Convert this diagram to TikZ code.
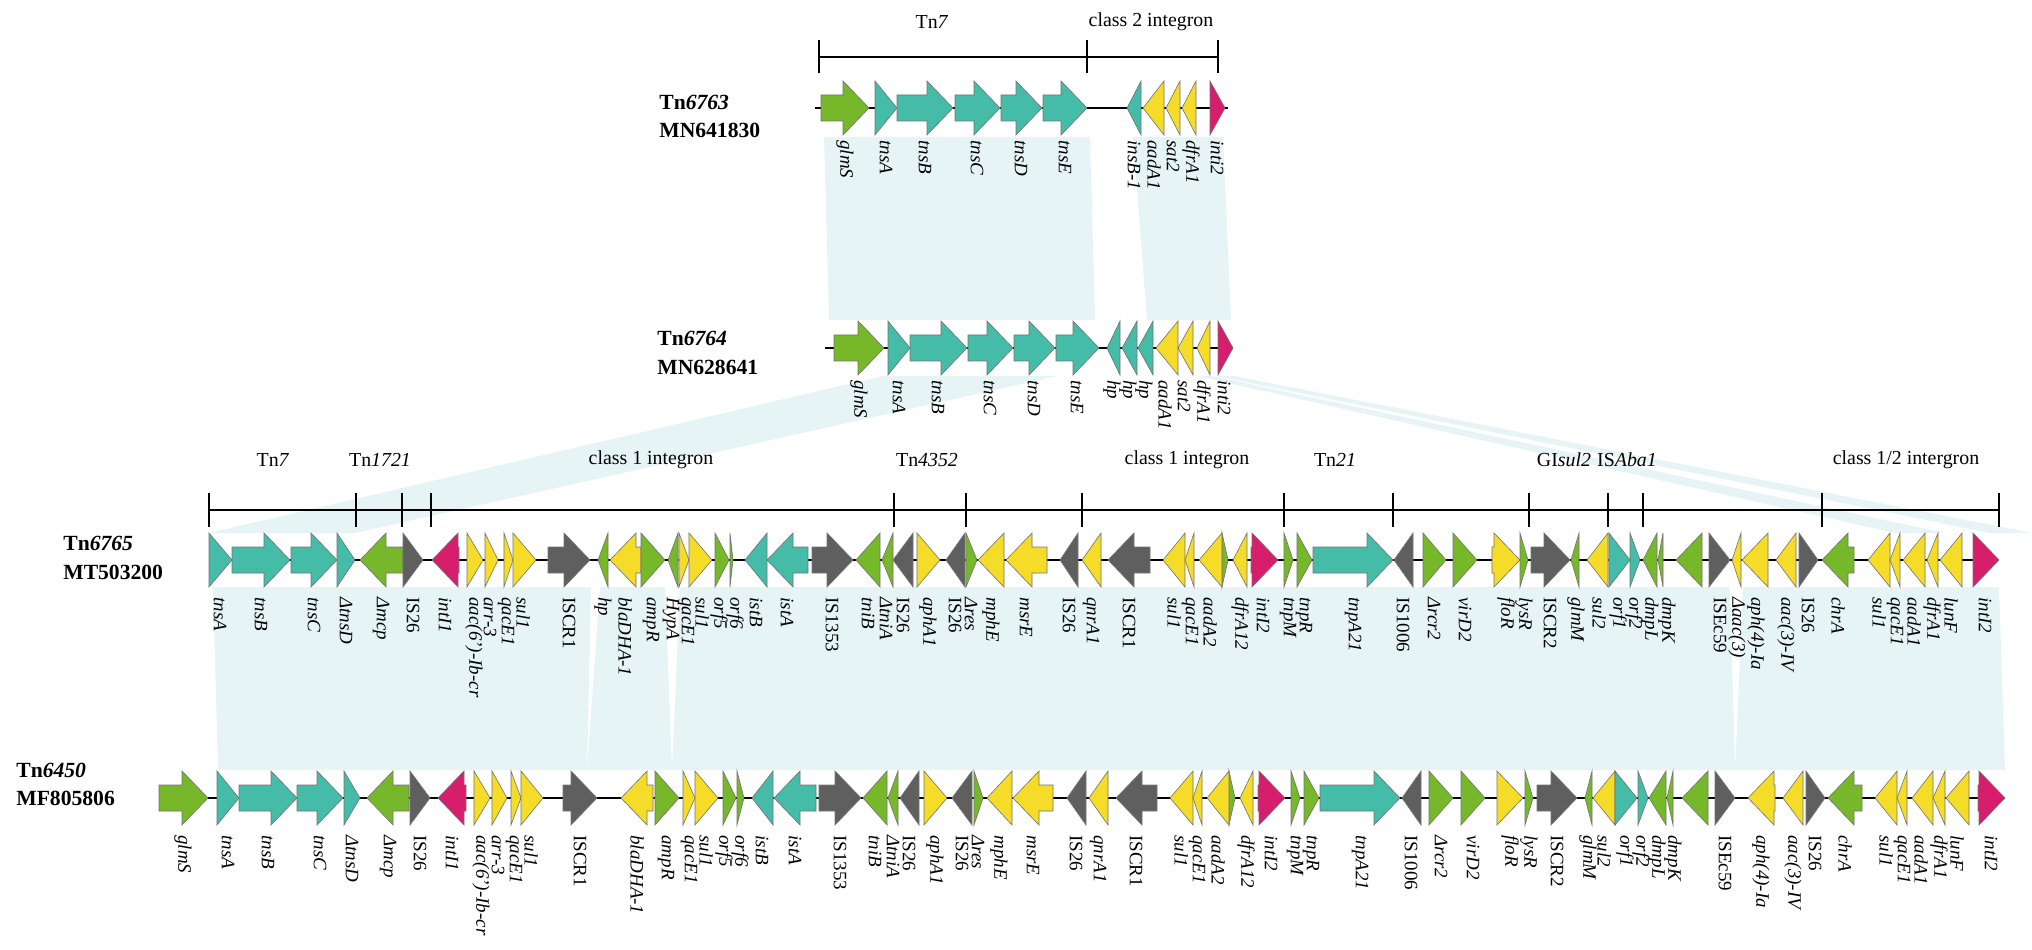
\documentclass[tikz,border=0pt]{standalone}
\usepackage{fontspec}
\setmainfont{Liberation Serif}
\usepackage{tikz}
\usetikzlibrary{calc}
\definecolor{genegreen}{HTML}{76B82A}
\definecolor{geneteal}{HTML}{45BCA8}
\definecolor{geneyellow}{HTML}{F5DC28}
\definecolor{genepink}{HTML}{D61E6C}
\definecolor{genegray}{HTML}{5F5F5F}
\definecolor{bandblue}{HTML}{E6F4F6}
% gene arrow: x1, x2, y, direction (R/L), colour
\newcommand{\gene}[5]{%
  \pgfmathsetmacro{\ghead}{min(#2-#1,26)}%
  \if#4R%
    \filldraw[genebody,fill=#5] (#1,#3-13) -- ({#2-\ghead},#3-13) -- ({#2-\ghead},#3-27) -- (#2,#3) -- ({#2-\ghead},#3+27) -- ({#2-\ghead},#3+13) -- (#1,#3+13) -- cycle;%
  \else%
    \filldraw[genebody,fill=#5] (#2,#3-13) -- ({#1+\ghead},#3-13) -- ({#1+\ghead},#3-27) -- (#1,#3) -- ({#1+\ghead},#3+27) -- ({#1+\ghead},#3+13) -- (#2,#3+13) -- cycle;%
  \fi}

\begin{document}
\begin{tikzpicture}[x=0.2mm, y=-0.2mm]

    % TikZ styles for drawing %%%%%%%%%%%%%%%%%%%%%%%%%%%%%%%%%%%%%%%%%%%%%%%%%%%%%%
    \tikzstyle{genebody} = [draw=black!55, line width=0.35pt]
    \tikzstyle{backbone} = [line width=1.7pt]
    \tikzstyle{bracket} = [line width=1.5pt]
    \tikzstyle{band} = [fill=bandblue]
    \tikzstyle{glabel} = [rotate=-90, anchor=west, inner sep=0pt, font=\itshape\fontsize{10.8}{12}\selectfont]
    \tikzstyle{title} = [anchor=west, inner sep=0pt, font=\bfseries\fontsize{12.3}{14}\selectfont]
    \tikzstyle{region} = [inner sep=0pt, font=\fontsize{11.3}{13}\selectfont]

    \useasboundingbox (0,0) rectangle (2032,950);

    % Homology bands %%%%%%%%%%%%%%%%%%%%%%%%%%%%%%%%%%%%%%%%%%%%%%%%%%%%%%%%%%%%%%%%%%%
    \fill[band] (824,137) -- (1090,137) -- (1095,320) -- (829,320) -- cycle;
    \fill[band] (1133,137) -- (1223,137) -- (1231,320) -- (1147,320) -- cycle;
    \fill[band] (883,376) -- (1057,376) -- (355,533) -- (209,533) -- cycle;
    \fill[band] (1216,376) -- (1234,376) -- (2032,533) -- (1990,533) -- cycle;
    \fill[band] (1197,376) -- (1212,376) -- (1945,533) -- (1895,533) -- cycle;
    \fill[band] (213,587) -- (591,587) -- (587,770) -- (218,770) -- cycle;
    \fill[band] (600,587) -- (665,587) -- (672,770) -- (587,770) -- cycle;
    \fill[band] (680,587) -- (1730,587) -- (1735,770) -- (672,770) -- cycle;
    \fill[band] (1743,587) -- (1999,587) -- (2005,770) -- (1735,770) -- cycle;

    % Region brackets %%%%%%%%%%%%%%%%%%%%%%%%%%%%%%%%%%%%%%%%%%%%%%%%%%%%%%%%%%%%%%%%%%
    \draw[bracket] (819,57) -- (1218,57);
    \foreach \t in {819,1087,1218}
      \draw[bracket] (\t,40) -- (\t,73);
    \node[region] (tnseven) at (932,22) {Tn\textit{7}};
    \node[region] (classtwo) at (1151,22) {class 2 integron};

    \draw[bracket] (209,510) -- (1999,510);
    \foreach \t in {209,356,402,431,894,966,1082,1284,1393,1529,1608,1643,1822,1999}
      \draw[bracket] (\t,493) -- (\t,527);
    \node[region] (rtnseven) at (273,460) {Tn\textit{7}};
    \node[region] (rtnone) at (380,460) {Tn\textit{1721}};
    \node[region] (rclassone) at (651,460) {class 1 integron};
    \node[region] (rtnfour) at (927,460) {Tn\textit{4352}};
    \node[region] (rclassonb) at (1187,460) {class 1 integron};
    \node[region] (rtntwo) at (1335,460) {Tn\textit{21}};
    \node[region] (rgisul) at (1564,460) {GI\textit{sul2}};
    \node[region] (risaba) at (1627,460) {IS\textit{Aba1}};
    \node[region] (rclassmix) at (1906,460) {class 1/2 intergron};

    % Titles %%%%%%%%%%%%%%%%%%%%%%%%%%%%%%%%%%%%%%%%%%%%%%%%%%%%%%%%%%%%%%%%%%%%%%%%%%%
    \node[title] (tna) at (659,102) {Tn\textit{6763}};
    \node[title] (acca) at (659,130) {MN641830};
    \node[title] (tnb) at (657,338) {Tn\textit{6764}};
    \node[title] (accb) at (657,367) {MN628641};
    \node[title] (tnc) at (63,543) {Tn\textit{6765}};
    \node[title] (accc) at (63,572) {MT503200};
    \node[title] (tnd) at (16,770) {Tn\textit{6450}};
    \node[title] (accd) at (16,798) {MF805806};

    % Backbones %%%%%%%%%%%%%%%%%%%%%%%%%%%%%%%%%%%%%%%%%%%%%%%%%%%%%%%%%%%%%%%%%%%%%%%%
    \draw[backbone] (815,108) -- (1228,108);
    \draw[backbone] (825,348) -- (1233,348);
    \draw[backbone] (209,560) -- (1999,560);
    \draw[backbone] (159,798) -- (2005,798);

    % Tn6763 %%%%%%%%%%%%%%%%%%%%%%%%%%%%%%%%%%%%%%%%%%%%%%%%%%%%%%%%%%%%%%%%%%%%%%%%%%%
    \foreach \xa/\xb/\col/\dir/\lx/\lab [count=\i] in {
      821/869/genegreen/R/845/glmS, 875/897/geneteal/R/886/tnsA,
      897/953/geneteal/R/925/tnsB, 955/1000/geneteal/R/977/tnsC,
      1001/1042/geneteal/R/1021/tnsD, 1043/1087/geneteal/R/1065/tnsE,
      1127/1141/geneteal/L/1134/insB-1, 1143/1164/geneyellow/L/1154/aadA1,
      1166/1180/geneyellow/L/1173/sat2, 1182/1196/geneyellow/L/1191/dfrA1,
      1210/1225/genepink/R/1217/inti2} {
      \gene{\xa}{\xb}{108}{\dir}{\col}
      \node[glabel] (al\i) at (\lx,140) {\lab};
    }

    % Tn6764 %%%%%%%%%%%%%%%%%%%%%%%%%%%%%%%%%%%%%%%%%%%%%%%%%%%%%%%%%%%%%%%%%%%%%%%%%%%
    \foreach \xa/\xb/\col/\dir/\lx/\lab [count=\i] in {
      834/884/genegreen/R/859/glmS, 888/910/geneteal/R/899/tnsA,
      910/967/geneteal/R/938/tnsB, 968/1013/geneteal/R/990/tnsC,
      1014/1055/geneteal/R/1034/tnsD, 1056/1099/geneteal/R/1077/tnsE,
      1107/1120/geneteal/L/1112/hp, 1122/1137/geneteal/L/1128/hp,
      1138/1153/geneteal/L/1144/hp, 1156/1178/geneyellow/L/1165/aadA1,
      1178/1193/geneyellow/L/1184/sat2, 1197/1210/geneyellow/L/1202/dfrA1,
      1218/1233/genepink/R/1224/inti2} {
      \gene{\xa}{\xb}{348}{\dir}{\col}
      \node[glabel] (bl\i) at (\lx,380) {\lab};
    }

    % Tn6765 %%%%%%%%%%%%%%%%%%%%%%%%%%%%%%%%%%%%%%%%%%%%%%%%%%%%%%%%%%%%%%%%%%%%%%%%%%%
    \gene{1222}{1228}{560}{R}{genegreen}
    \foreach \xa/\xb/\col/\dir/\lx/\lab [count=\i] in {
      209/232/geneteal/R/220/tnsA, 232/290/geneteal/R/261/tnsB,
      291/337/geneteal/R/314/tnsC, 337/355/geneteal/R/346/ΔtnsD,
      360/403/genegreen/L/381/Δmcp, 403/423/genegray/R/413/{\upshape IS26},
      432/459/genepink/L/445/intI1, 467/483/geneyellow/R/474/aac(6’)-Ib-cr,
      485/498/geneyellow/R/490/arr-3, 504/513/geneyellow/R/506/qacE1,
      513/536/geneyellow/R/523/sul1, 548/590/genegray/R/569/{\upshape ISCR1},
      598/608/genegreen/L/603/hp, 610/641/geneyellow/L/625/blaDHA-1,
      641/665/genegreen/R/651/ampR, 668/678/genegreen/L/671/HypA,
      679/689/geneyellow/R/686/qacE1, 689/712/geneyellow/R/702/sul1,
      715/729/genegreen/R/719/orf5, 730/733/genegreen/R/735/orf6,
      745/767/geneteal/L/756/istB, 767/808/geneteal/L/787/istA,
      812/853/genegray/R/832/{\upshape IS1353}, 856/880/genegreen/L/868/tniB,
      882/893/genegreen/L/886/ΔtniA, 893/913/genegray/L/903/{\upshape IS26},
      917/940/geneyellow/R/928/aphA1, 946/965/genegray/L/955/{\upshape IS26},
      966/977/genegreen/R/971/Δres, 978/1004/geneyellow/L/991/mphE,
      1006/1047/geneyellow/L/1026/msrE, 1060/1078/genegray/L/1069/{\upshape IS26},
      1082/1101/geneyellow/L/1091/qnrA1, 1108/1150/genegray/L/1129/{\upshape ISCR1},
      1163/1185/geneyellow/L/1174/sul1, 1185/1194/geneyellow/L/1190/qacE1,
      1199/1222/geneyellow/L/1210/aadA2, 1233/1247/geneyellow/L/1240/dfrA12,
      1251/1278/genepink/R/1263/intI2, 1284/1293/genegreen/R/1288/tnpM,
      1297/1312/genegreen/R/1304/tnpR, 1313/1393/geneteal/R/1353/tnpA21,
      1394/1413/genegray/L/1403/{\upshape IS1006}, 1423/1446/genegreen/R/1434/Δrcr2,
      1453/1477/genegreen/R/1465/virD2, 1492/1520/geneyellow/R/1506/floR,
      1520/1528/genegreen/R/1524/lysR, 1531/1570/genegray/R/1550/{\upshape ISCR2},
      1571/1579/genegreen/L/1576/glmM, 1587/1608/geneyellow/L/1599/sul2,
      1609/1630/geneteal/R/1618/orf1, 1630/1640/geneteal/R/1634/orf2,
      1643/1657/genegreen/L/1650/dmpL, 1658/1663/genegreen/L/1667/dmpK,
      1676/1702/genegreen/L/1689/{}, 1709/1730/genegray/R/1720/{\upshape ISEc59},
      1732/1741/geneyellow/L/1737/Δaac(3), 1742/1768/geneyellow/L/1756/aph(4)-Ia,
      1776/1796/geneyellow/L/1786/aac(3)-IV, 1799/1818/genegray/R/1808/{\upshape IS26},
      1822/1854/genegreen/L/1838/chrA, 1868/1890/geneyellow/L/1879/sul1,
      1890/1900/geneyellow/L/1895/qacE1, 1903/1925/geneyellow/L/1914/aadA1,
      1927/1938/geneyellow/L/1932/dfrA1, 1940/1962/geneyellow/L/1951/lunF,
      1973/1999/genepink/R/1985/intI2} {
      \gene{\xa}{\xb}{560}{\dir}{\col}
      \node[glabel] (cl\i) at (\lx,597) {\lab};
    }

    % Tn6450 %%%%%%%%%%%%%%%%%%%%%%%%%%%%%%%%%%%%%%%%%%%%%%%%%%%%%%%%%%%%%%%%%%%%%%%%%%%
    \gene{1229}{1235}{798}{R}{genegreen}
    \foreach \xa/\xb/\col/\dir/\lx/\lab [count=\i] in {
      159/208/genegreen/R/183/glmS, 217/239/geneteal/R/228/tnsA,
      239/297/geneteal/R/268/tnsB, 297/343/geneteal/R/320/tnsC,
      344/360/geneteal/R/352/ΔtnsD, 367/409/genegreen/L/388/Δmcp,
      410/430/genegray/R/420/{\upshape IS26}, 438/466/genepink/L/452/intI1,
      474/490/geneyellow/R/481/aac(6’)-Ib-cr, 492/507/geneyellow/R/498/arr-3,
      511/521/geneyellow/R/514/qacE1, 521/543/geneyellow/R/531/sul1,
      563/597/genegray/R/580/{\upshape ISCR1}, 621/653/geneyellow/L/637/blaDHA-1,
      655/679/genegreen/R/666/ampR, 683/695/geneyellow/R/689/qacE1,
      695/718/geneyellow/R/706/sul1, 723/736/genegreen/R/724/orf5,
      737/744/genegreen/R/740/orf6, 752/773/geneteal/L/762/istB,
      774/816/geneteal/L/795/istA, 819/861/genegray/R/840/{\upshape IS1353},
      863/887/genegreen/L/875/tniB, 888/898/genegreen/L/893/ΔtniA,
      900/919/genegray/L/909/{\upshape IS26}, 924/947/geneyellow/R/935/aphA1,
      952/972/genegray/L/962/{\upshape IS26}, 974/983/genegreen/R/978/Δres,
      987/1012/geneyellow/L/999/mphE, 1013/1053/geneyellow/L/1033/msrE,
      1067/1086/genegray/L/1076/{\upshape IS26}, 1089/1108/geneyellow/L/1098/qnrA1,
      1116/1157/genegray/L/1136/{\upshape ISCR1}, 1170/1193/geneyellow/L/1181/sul1,
      1193/1202/geneyellow/L/1197/qacE1, 1207/1229/geneyellow/L/1218/aadA2,
      1240/1253/geneyellow/L/1246/dfrA12, 1258/1285/genepink/R/1271/intI2,
      1291/1300/genegreen/R/1295/tnpM, 1304/1319/genegreen/R/1311/tnpR,
      1320/1400/geneteal/R/1360/tnpA21, 1402/1421/genegray/L/1411/{\upshape IS1006},
      1429/1453/genegreen/R/1441/Δrcr2, 1461/1485/genegreen/R/1473/virD2,
      1497/1523/geneyellow/R/1510/floR, 1525/1533/genegreen/R/1529/lysR,
      1537/1577/genegray/R/1557/{\upshape ISCR2}, 1585/1592/genegreen/L/1588/glmM,
      1593/1615/geneyellow/L/1604/sul2, 1615/1637/geneteal/R/1625/orf1,
      1638/1648/geneteal/R/1641/orf2, 1649/1666/genegreen/L/1657/dmpL,
      1667/1673/genegreen/L/1673/dmpK, 1682/1708/genegreen/L/1695/{},
      1715/1735/genegray/R/1725/{\upshape ISEc59}, 1748/1775/geneyellow/L/1761/aph(4)-Ia,
      1783/1803/geneyellow/L/1793/aac(3)-IV, 1806/1825/genegray/R/1815/{\upshape IS26},
      1828/1862/genegreen/L/1845/chrA, 1875/1897/geneyellow/L/1886/sul1,
      1897/1907/geneyellow/L/1902/qacE1, 1912/1933/geneyellow/L/1921/aadA1,
      1933/1945/geneyellow/L/1939/dfrA1, 1946/1969/geneyellow/L/1957/lunF,
      1978/2005/genepink/R/1991/intI2} {
      \gene{\xa}{\xb}{798}{\dir}{\col}
      \node[glabel] (dl\i) at (\lx,835) {\lab};
    }

\end{tikzpicture}
\end{document}
